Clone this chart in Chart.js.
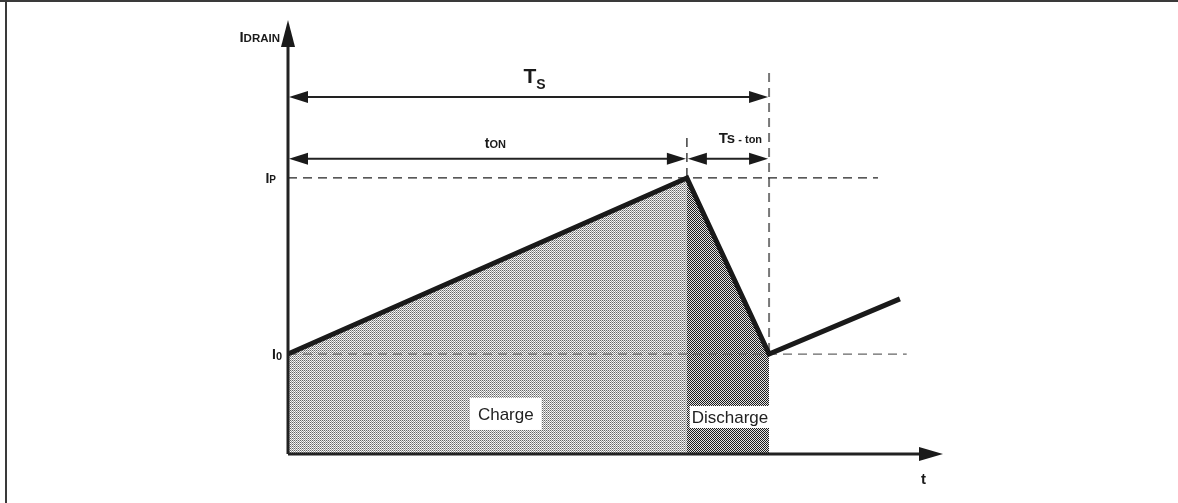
<!DOCTYPE html>
<html>
<head>
<meta charset="utf-8">
<script src="https://cdn.jsdelivr.net/npm/chart.js@4.4.0/dist/chart.umd.min.js"></script>
<style>
  html, body { margin: 0; padding: 0; background: #fff; }
  canvas { display: block; }
</style>
</head>
<body>
<canvas id="chart" width="1178" height="503"></canvas>
<script>
// time points of the drain current waveform (ton = 10 units)
var tPoints = [0, 10, 12.06, 15.34];
var iDrain = [0.362, 1, 0.362, 0.562];

// reference levels
var levelNames = ['I0', 'IP'];
var levelValues = [0.362, 1];
var levelEnds = [15.51, 14.79];

// dimension arrows
var arrowFrom = [0, 0, 10];
var arrowTo = [12.06, 10, 12.06];
var arrowLevel = [1.293, 1.069, 1.069];
var arrowLabels = ['Ts', 'tON', 'Ts - ton'];

// vertical marker lines (at ton and Ts)
var markerT = [10, 12.06];
var markerTop = [1.145, 1.38];
var markerBottom = [1, 0.362];

// region labels
var regionLabels = ['Charge', 'Discharge'];
var regionT = [5.46, 11.08];
var regionI = [0.145, 0.134];

var axisMaxT = 16.42;
var axisMaxI = 1.572;

function makePattern(c1, c2, c3, c4) {
  var p = document.createElement('canvas');
  p.width = 2; p.height = 2;
  var g = p.getContext('2d');
  g.fillStyle = c1; g.fillRect(0, 0, 1, 1);
  g.fillStyle = c2; g.fillRect(1, 0, 1, 1);
  g.fillStyle = c3; g.fillRect(0, 1, 1, 1);
  g.fillStyle = c4; g.fillRect(1, 1, 1, 1);
  return document.getElementById('chart').getContext('2d').createPattern(p, 'repeat');
}

var chargeFill = makePattern('#666666', '#e6e6e6', '#ffffff', '#9c9c9c');
var dischargeFill = makePattern('#1c1c1c', '#e4e4e4', '#e4e4e4', '#1c1c1c');

function pts(xs, ys) {
  var out = [];
  for (var i = 0; i < xs.length; i++) out.push({x: xs[i], y: ys[i]});
  return out;
}

// first dataset ends up on top
var datasets = [{
  data: pts(tPoints, iDrain),
  borderColor: '#1a1a1a', borderWidth: 5, pointRadius: 0, fill: false,
  borderJoinStyle: 'miter'
}];

for (var k = 0; k < levelValues.length; k++) {
  datasets.push({
    data: [{x: 0, y: levelValues[k]}, {x: levelEnds[k], y: levelValues[k]}],
    borderColor: k == 0 ? '#666' : '#222', borderWidth: 1.3, borderDash: [9, 6],
    pointRadius: 0, fill: false
  });
}
for (var m = 0; m < markerT.length; m++) {
  datasets.push({
    data: [{x: markerT[m], y: markerTop[m]}, {x: markerT[m], y: markerBottom[m]}],
    borderColor: m == 0 ? '#222' : '#777', borderWidth: m == 0 ? 1.3 : 2, borderDash: [9, 6],
    pointRadius: 0, fill: false
  });
}

datasets.push({
  data: pts(tPoints.slice(0, 2), iDrain.slice(0, 2)),
  fill: 'origin', backgroundColor: chargeFill, borderWidth: 0, pointRadius: 0
});
datasets.push({
  data: pts(tPoints.slice(1, 3), iDrain.slice(1, 3)),
  fill: 'origin', backgroundColor: dischargeFill, borderWidth: 0, pointRadius: 0
});

datasets.forEach(function (d) { d.showLine = true; d.clip = false; d.tension = 0; });

function arrowHead(ctx, x, y, dir, len, half) {
  ctx.beginPath();
  if (dir == 'right') { ctx.moveTo(x, y); ctx.lineTo(x - len, y - half); ctx.lineTo(x - len, y + half); }
  if (dir == 'left') { ctx.moveTo(x, y); ctx.lineTo(x + len, y - half); ctx.lineTo(x + len, y + half); }
  if (dir == 'up') { ctx.moveTo(x, y); ctx.lineTo(x - half, y + len); ctx.lineTo(x + half, y + len); }
  ctx.closePath();
  ctx.fill();
}

// text made of parts: [text, size, dy]
function richText(ctx, parts, x, y, align) {
  var w = 0;
  parts.forEach(function (p) { ctx.font = 'bold ' + p[1] + 'px "Liberation Sans", Arial, sans-serif'; w += ctx.measureText(p[0]).width; });
  var cx = align == 'center' ? x - w / 2 : (align == 'right' ? x - w : x);
  ctx.textAlign = 'left';
  ctx.textBaseline = 'alphabetic';
  parts.forEach(function (p) {
    ctx.font = 'bold ' + p[1] + 'px "Liberation Sans", Arial, sans-serif';
    ctx.fillText(p[0], cx, y + (p[2] || 0));
    cx += ctx.measureText(p[0]).width;
  });
}

var labelParts = {
  'Ts': [['T', 21], ['S', 14, 6]],
  'tON': [['t', 14], ['ON', 11]],
  'Ts - ton': [['Ts', 15], [' - ton', 11]],
  'I0': [['I', 14], ['0', 11, 1]],
  'IP': [['I', 14], ['P', 10]]
};

var drawing = {
  id: 'drawing',
  afterDatasetsDraw: function (chart) {
    var ctx = chart.ctx;
    var xs = chart.scales.x, ys = chart.scales.y;
    var x0 = xs.getPixelForValue(0), y0 = ys.getPixelForValue(0);
    ctx.save();

    // page frame
    ctx.fillStyle = '#3a3a3a';
    ctx.fillRect(0, 0, chart.width, 2);
    ctx.fillRect(5, 0, 2, chart.height);

    // axes
    ctx.strokeStyle = '#222';
    ctx.fillStyle = '#1a1a1a';
    ctx.lineWidth = 3;
    ctx.beginPath();
    ctx.moveTo(x0, y0);
    ctx.lineTo(x0, ys.getPixelForValue(axisMaxI) + 20);
    ctx.moveTo(x0, y0);
    ctx.lineTo(xs.getPixelForValue(axisMaxT) - 20, y0);
    ctx.stroke();
    arrowHead(ctx, x0, ys.getPixelForValue(axisMaxI), 'up', 27, 7);
    arrowHead(ctx, xs.getPixelForValue(axisMaxT), y0, 'right', 24, 7);

    // dimension arrows
    ctx.lineWidth = 2;
    for (var i = 0; i < arrowFrom.length; i++) {
      var a = xs.getPixelForValue(arrowFrom[i]), b = xs.getPixelForValue(arrowTo[i]);
      var y = ys.getPixelForValue(arrowLevel[i]);
      ctx.beginPath();
      ctx.moveTo(a + 10, y);
      ctx.lineTo(b - 10, y);
      ctx.stroke();
      arrowHead(ctx, a + 1, y, 'left', 19, 6);
      arrowHead(ctx, b - 1, y, 'right', 19, 6);
    }

    // dimension labels
    ctx.fillStyle = '#1a1a1a';
    richText(ctx, labelParts['Ts'], xs.getPixelForValue((arrowFrom[0] + arrowTo[0]) / 2) + 6, ys.getPixelForValue(arrowLevel[0]) - 14, 'center');
    richText(ctx, labelParts['tON'], xs.getPixelForValue((arrowFrom[1] + arrowTo[1]) / 2) + 8, ys.getPixelForValue(arrowLevel[1]) - 11, 'center');
    richText(ctx, labelParts['Ts - ton'], xs.getPixelForValue(arrowTo[2]) - 7, ys.getPixelForValue(arrowLevel[2]) - 16, 'right');

    // level labels
    for (var k = 0; k < levelValues.length; k++) {
      richText(ctx, labelParts[levelNames[k]], x0 - (k == 0 ? 6 : 12), ys.getPixelForValue(levelValues[k]) + 5, 'right');
    }

    // axis titles
    richText(ctx, [['I', 15], ['DRAIN', 11.5]], x0 - 8, 42, 'right');
    richText(ctx, [['t', 15]], xs.getPixelForValue(axisMaxT) - 22, y0 + 30, 'left');

    // region labels in white boxes
    ctx.font = '17px "Liberation Sans", Arial, sans-serif';
    ctx.textAlign = 'center';
    ctx.textBaseline = 'middle';
    for (var r = 0; r < regionLabels.length; r++) {
      var cx = xs.getPixelForValue(regionT[r]), cy = ys.getPixelForValue(regionI[r]);
      var w = ctx.measureText(regionLabels[r]).width + (r == 0 ? 16 : 4);
      var h = r == 0 ? 32 : 22;
      ctx.fillStyle = '#fff';
      ctx.fillRect(cx - w / 2, cy - h / 2, w, h);
      ctx.fillStyle = '#222';
      ctx.fillText(regionLabels[r], cx, cy + 1);
    }
    ctx.restore();
  }
};

new Chart(document.getElementById('chart'), {
  type: 'scatter',
  data: { datasets: datasets },
  options: {
    responsive: false,
    animation: false,
    layout: { padding: { left: 288, right: 235, top: 20, bottom: 49 } },
    scales: {
      x: { type: 'linear', min: 0, max: axisMaxT, display: false },
      y: { type: 'linear', min: 0, max: axisMaxI, display: false }
    },
    plugins: { legend: { display: false }, tooltip: { enabled: false } }
  },
  plugins: [drawing]
});
</script>
</body>
</html>
